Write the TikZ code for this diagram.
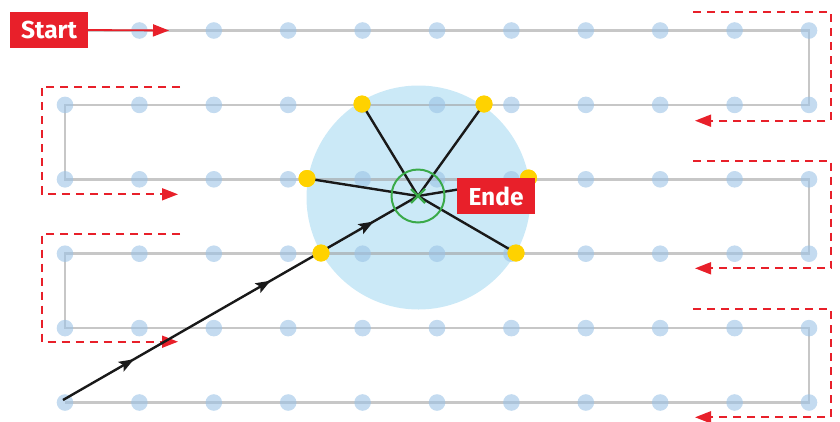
\documentclass[tikz,border=0pt]{standalone}
\usepackage{fontspec}
\newfontfamily\lblfont{Fira Sans}
\usetikzlibrary{arrows.meta,decorations.markings}
\definecolor{myred}{HTML}{E8202A}
\definecolor{circblue}{HTML}{CBE9F7}
\definecolor{dotblue}{HTML}{9CC3E6}
\definecolor{myyellow}{HTML}{FFD200}
\definecolor{mygreen}{HTML}{3AAA49}
\tikzset{
  grayline/.style={draw=black!37, line width=2.6pt, opacity=0.6, line join=miter},
  bluedot/.style={fill=dotblue, opacity=0.6},
  reddash/.style={draw=myred, line width=1.7pt, dash pattern=on 8pt off 6pt, -{Triangle[length=16pt,width=12pt]}},
  redarrow/.style={draw=myred, line width=1.8pt, -{Triangle[length=16pt,width=12pt]}},
  labelbox/.style={fill=myred, text=white, inner sep=0pt, minimum width=78pt, minimum height=36pt, font=\lblfont\bfseries\fontsize{24.5}{24.5}\selectfont},
  spoke/.style={draw=black!90, line width=2.4pt},
  yellowdot/.style={circle, fill=myyellow, inner sep=0pt, minimum size=17pt},
  travel/.style={draw=black!90, line width=2.4pt, postaction={decorate}, decoration={markings,
    mark=at position 0.2 with {\arrow{Stealth[length=15pt,width=11pt,inset=3pt]}},
    mark=at position 0.585 with {\arrow{Stealth[length=15pt,width=11pt,inset=3pt]}},
    mark=at position 0.875 with {\arrow{Stealth[length=15pt,width=11pt,inset=3pt]}}}},
}
\begin{document}
\begin{tikzpicture}[x=1pt,y=-1pt]
\useasboundingbox (0,0) rectangle (840,421);
% grid coordinates
\foreach \r in {0,...,5}{
  \foreach \c in {0,...,10}{
    \coordinate (d\r-\c) at ({65+74.4*\c},{30.5+74.4*\r});
  }
}
% search circle
\coordinate (ctr) at (418,196);
\fill[circblue] (ctr) ++(0.5,1.5) circle (112);
% serpentine path
\draw[grayline] (d0-0) -- (d0-10) -- (d1-10) -- (d1-0) -- (d2-0) -- (d2-10) -- (d3-10) -- (d3-0) -- (d4-0) -- (d4-10) -- (d5-10) -- (d5-0);
% dots
\foreach \r in {0,...,5}{
  \foreach \c in {0,...,10}{
    \fill[bluedot] (d\r-\c) circle (8.3);
  }
}
% red dashed turn brackets
\coordinate (ra1) at (693,12.3);  \coordinate (rb1) at (831,120.7); \coordinate (rt1) at (695,120.7);
\coordinate (ra2) at (693,160.7); \coordinate (rb2) at (831,268.3); \coordinate (rt2) at (695,268.3);
\coordinate (ra3) at (693,309.3); \coordinate (rb3) at (831,417.3); \coordinate (rt3) at (695,417.3);
\draw[reddash] (ra1) -| (rb1) -- (rt1);
\draw[reddash] (ra2) -| (rb2) -- (rt2);
\draw[reddash] (ra3) -| (rb3) -- (rt3);
\coordinate (la1) at (180,86.7); \coordinate (lb1) at (41.7,86.7); \coordinate (lt1) at (178,194.3);
\coordinate (la2) at (180,234);  \coordinate (lb2) at (41.7,234);  \coordinate (lt2) at (178,341.7);
\draw[reddash] (la1) -- (lb1) |- (lt1);
\draw[reddash] (la2) -- (lb2) |- (lt2);
% start label
\node[labelbox] (start) at (49,30) {Start};
\coordinate (starttip) at (169,30.5);
\draw[redarrow] (start.east) -- (starttip);
% yellow points
\node[yellowdot] (y1) at (362,104) {};
\node[yellowdot] (y2) at (484,104) {};
\node[yellowdot] (y3) at (307,178.5) {};
\node[yellowdot] (y4) at (528.5,178) {};
\node[yellowdot] (y5) at (321,253) {};
\node[yellowdot] (y6) at (516,253) {};
% spokes
\draw[spoke] (y1.center) -- (ctr);
\draw[spoke] (y2.center) -- (ctr);
\draw[spoke] (y3.center) -- (ctr);
\draw[spoke] (y4.center) -- (ctr);
\draw[spoke] (y6.center) -- (ctr);
% travel path
\coordinate (p0) at (63,400);
\draw[travel] (p0) -- (ctr);
% redraw yellow dots on top
\foreach \n in {y1,y2,y3,y4,y5,y6}{\fill[myyellow] (\n.center) circle (8.5);}
% green target
\draw[mygreen, line width=2pt] (ctr) circle (26.5);
\draw[mygreen, line width=2.2pt] (ctr) ++(-7,-7) -- ++(14,14);
\draw[mygreen, line width=2.2pt] (ctr) ++(-7,7) -- ++(14,-14);
% Ende label
\node[labelbox] (ende) at (496,196) {Ende};
\end{tikzpicture}
\end{document}
